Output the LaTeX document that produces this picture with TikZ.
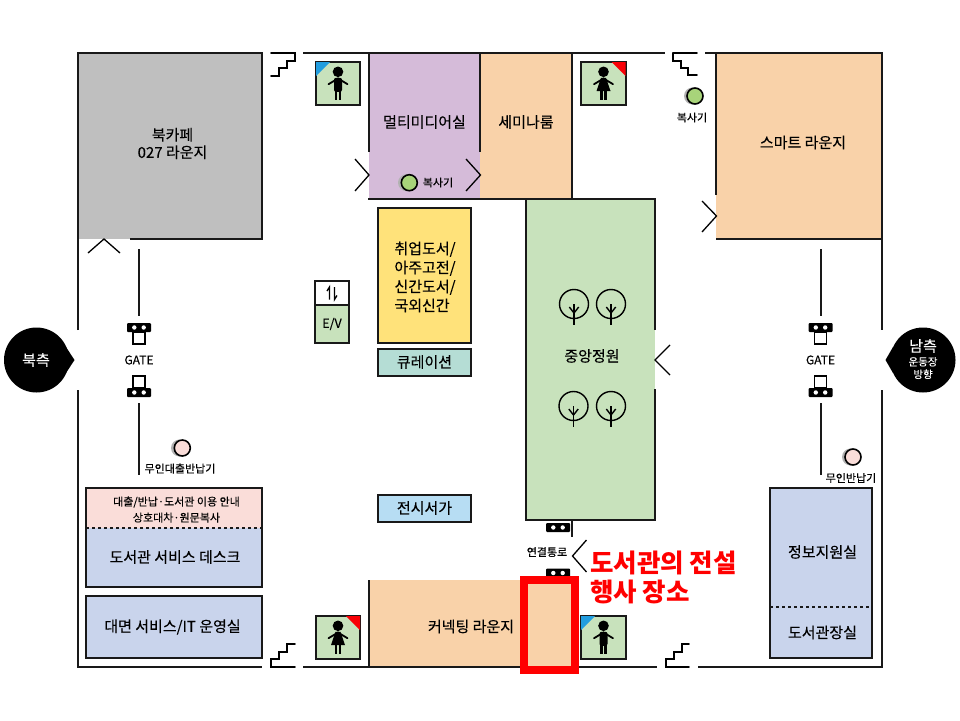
\documentclass[tikz,border=0pt]{standalone}
\usepackage{fontspec}
\setmainfont{Noto Sans CJK KR}[UprightFeatures = {FakeBold = 0.2}]
\usepackage{tikz}
\usetikzlibrary{positioning}
\definecolor{cafegray}{HTML}{BFBFBF}
\definecolor{mediapurple}{HTML}{D5BBD9}
\definecolor{loungeorange}{HTML}{F9D2A9}
\definecolor{gardengreen}{HTML}{C8E2BC}
\definecolor{shelfyellow}{HTML}{FFE27A}
\definecolor{curateteal}{HTML}{B5DDD5}
\definecolor{displayblue}{HTML}{B7DDF3}
\definecolor{deskpink}{HTML}{FADDD9}
\definecolor{deskblue}{HTML}{C9D4EC}
\definecolor{copygreen}{HTML}{A8D47A}
\tikzstyle{wall} = [line width = 2pt, draw = black!90]
\tikzstyle{box} = [line width = 2pt, draw = black!90]
\tikzstyle{door} = [line width = 1.3pt, draw = black]
\tikzstyle{stair} = [line width = 1.6pt, draw = black, line cap = round]
\tikzstyle{textarea} = [inner sep = 0, text centered, font = \fontsize{15}{19}\selectfont]
\tikzstyle{smalltext} = [inner sep = 0, text centered, font = \fontsize{11}{16}\selectfont]
\tikzset{
  figure/.style = {line width = 1.8pt, line cap = round},
  man/.pic = {
    \fill (0, -11.7) circle (5.3);
    \draw [figure] (-9.5, 0.7) -- (0, -5) -- (9.5, 0.7);
    \fill [rounded corners = 2] (-4, -5.7) rectangle (4, 8.3);
    \fill (-3.3, 6) rectangle (-0.7, 16);
    \fill (0.7, 6) rectangle (3.3, 16);
  },
  woman/.pic = {
    \fill (0, -11.7) circle (5.3);
    \draw [figure] (-9.5, 0.7) -- (0, -5) -- (9.5, 0.7);
    \fill (-2.5, -5.7) -- (2.5, -5.7) -- (7, 7.5) -- (-7, 7.5) -- cycle;
    \fill (-3.3, 6) rectangle (-0.7, 16);
    \fill (0.7, 6) rectangle (3.3, 16);
  },
  tree/.pic = {
    \draw [line width = 1.4pt] (0, 0) circle (14.5);
    \draw [line width = 1.4pt] (0, 0) -- (0, 21);
    \draw [line width = 1.4pt] (-4.7, 3) -- (0, 9) -- (4.7, 3);
  },
  gateblock/.pic = {
    \fill [rounded corners = 1] (-12, -4.5) rectangle (12, 4.5);
    \fill [white] (-4.7, 0) circle (2.2);
    \fill [white] (4.7, 0) circle (2.2);
  },
  gatedown/.pic = {
    \draw [line width = 1.4pt] (-6, 0) rectangle (6, 12);
    \pic at (0, -4.5) {gateblock};
  },
  gateup/.pic = {
    \draw [line width = 1.4pt] (-6, 0) rectangle (6, -12);
    \pic at (0, 4.5) {gateblock};
  }
}
\begin{document}
\begin{tikzpicture}[x = 1pt, y = -1pt]
    \useasboundingbox (0, 0) rectangle (960, 720);
    % room fills
    \fill [cafegray] (78, 53) rectangle (262, 239);
    \fill [mediapurple] (369, 53) rectangle (480, 199);
    \fill [loungeorange] (480, 53) rectangle (572, 199);
    \fill [loungeorange] (716, 53) rectangle (882, 239);
    \fill [gardengreen] (526, 199) rectangle (655, 520);
    \fill [loungeorange] (369, 580) rectangle (572, 667);
    % outer walls
    \draw [wall] (78, 330) -- (78, 53) -- (262, 53) -- (262, 239) -- (130, 239);
    \draw [wall] (78, 390) -- (78, 667) -- (262, 667);
    \draw [wall] (303, 53) -- (665, 53);
    \draw [wall] (303, 667) -- (657, 667);
    \draw [wall] (705, 53) -- (882, 53) -- (882, 330);
    \draw [wall] (698, 667) -- (882, 667) -- (882, 390);
    % inner walls
    \draw [wall] (369, 53) -- (369, 152);
    \draw [wall] (480, 53) -- (480, 152);
    \draw [wall] (572, 53) -- (572, 199);
    \draw [wall] (368, 199) -- (655, 199) -- (655, 330);
    \draw [wall] (655, 389) -- (655, 520) -- (526, 520) -- (526, 199);
    \draw [wall] (716, 53) -- (716, 195);
    \draw [wall] (716, 239) -- (882, 239);
    \draw [wall] (369, 580) -- (369, 667);
    \draw [wall] (572, 520) -- (572, 537);
    % gate walls
    \draw [wall] (139, 249) -- (139, 316);
    \draw [wall] (139, 403) -- (139, 475);
    \draw [wall] (820.5, 249) -- (820.5, 316);
    \draw [wall] (820.5, 403) -- (820.5, 475);
    % doors
    \draw [door] (88, 253) -- (104, 239) -- (120, 253);
    \draw [door] (355, 159) -- (369, 175) -- (355, 191);
    \draw [door] (466, 159) -- (480.5, 175) -- (466, 191);
    \draw [door] (702, 201) -- (716.5, 216) -- (702, 232);
    \draw [door] (670, 345) -- (655, 360) -- (670, 375);
    \draw [door] (586.5, 540) -- (572.5, 556) -- (586.5, 572);
    % stairs
    \draw [stair] (271, 53) -- (295, 53) -- (295, 61) -- (287, 61) -- (287, 68) -- (279, 68) -- (279, 76) -- (271, 76);
    \draw [stair] (673, 53) -- (697, 53);
    \draw [stair] (673, 53) -- (673, 61) -- (681, 61) -- (681, 68) -- (688, 68) -- (688, 75) -- (697, 75);
    \draw [stair] (295, 644) -- (287, 644) -- (287, 652) -- (279, 652) -- (279, 659) -- (271, 659) -- (271, 667) -- (295, 667);
    \draw [stair] (689, 644) -- (682, 644) -- (682, 652) -- (674, 652) -- (674, 659) -- (666, 659) -- (666, 667) -- (689, 667);
    % toilets
    \draw [box, fill = gardengreen] (316, 62) rectangle (360, 104.5);
    \fill [cyan!80!blue!90] (316, 62) -- (330, 62) -- (316, 76) -- cycle;
    \pic at (338, 83.5) {man};
    \draw [box, fill = gardengreen] (581, 62) rectangle (625.5, 104.5);
    \fill [red!90!purple] (625.5, 62) -- (611.5, 62) -- (625.5, 76) -- cycle;
    \pic at (603.5, 83.5) {woman};
    \draw [box, fill = gardengreen] (316, 616) rectangle (360, 658.5);
    \fill [red!90!purple] (360, 616) -- (346, 616) -- (360, 630) -- cycle;
    \pic at (338, 637.5) {woman};
    \draw [box, fill = gardengreen] (581, 616) rectangle (625.5, 658.5);
    \fill [cyan!80!blue!90] (581, 616) -- (595, 616) -- (581, 630) -- cycle;
    \pic at (603.5, 637.5) {man};
    % elevator
    \draw [box, fill = white] (315, 281) rectangle (349, 305);
    \draw [box, fill = gardengreen] (315, 305) rectangle (349, 343);
    \draw [line width = 1.3pt] (327, 291) -- (329.5, 287) -- (329.5, 299.5);
    \draw [line width = 1.3pt] (337, 295.5) -- (334.5, 299.5) -- (334.5, 287);
    \node [smalltext, font = \fontsize{12.5}{14}\selectfont] (label-ev) at (332, 324) {E/V};
    % shelves
    \draw [box, fill = shelfyellow] (378, 208) rectangle (471, 343);
    \draw [box, fill = curateteal] (378, 348.5) rectangle (471, 376);
    \draw [box, fill = displayblue] (378, 495) rectangle (471, 522);
    % desks
    \fill [deskpink] (86, 488) rectangle (262, 528);
    \fill [deskblue] (86, 528) rectangle (262, 587);
    \draw [box] (86, 488) rectangle (262, 587);
    \draw [box, dash pattern = on 3pt off 3pt] (86, 528) -- (262, 528);
    \draw [box, fill = deskblue] (86, 596) rectangle (262, 657.5);
    \draw [box, fill = deskblue] (770, 488) rectangle (872, 657.5);
    \draw [box, dash pattern = on 3pt off 3pt] (770, 607) -- (872, 607);
    % trees
    \pic at (574, 304) {tree};
    \pic at (611, 304) {tree};
    \pic at (573.5, 406) {tree};
    \pic at (611, 406) {tree};
    % gates
    \pic at (139, 332) {gatedown};
    \pic at (139, 388) {gateup};
    \pic at (820.5, 332) {gatedown};
    \pic at (820.5, 388) {gateup};
    \pic at (558, 527.5) {gateblock};
    \pic at (558, 573) {gateblock};
    % kiosks
    \fill [black!30] (179.5, 448) circle (8.5);
    \draw [line width = 1.6pt, fill = deskpink] (182.3, 448) circle (8);
    \fill [black!30] (850.5, 457) circle (8.5);
    \draw [line width = 1.6pt, fill = deskpink] (853, 457) circle (8);
    \fill [black!30] (692.5, 96) circle (8.5);
    \draw [line width = 1.6pt, fill = copygreen] (695, 96) circle (8);
    \fill [black!30] (406.5, 182.7) circle (8.5);
    \draw [line width = 1.6pt, fill = copygreen] (409.3, 182.7) circle (8);
    % direction signs
    \fill (36.5, 360) circle (32.5);
    \fill (66, 347) -- (74.5, 360) -- (66, 373) -- cycle;
    \fill (923, 360) circle (32.5);
    \fill (893, 347) -- (885.5, 360) -- (893, 373) -- cycle;
    \node [textarea, text = white] (sign-north) at (36, 360) {북측};
    \node [textarea, text = white] (sign-south) at (923, 346) {남측};
    \node [smalltext, text = white, font = \fontsize{10.5}{12.5}\selectfont, align = center] (sign-field) at (923, 368) {운동장\\방향};
    % room labels
    \node [textarea, align = center, font = \fontsize{15}{17.5}\selectfont] (label-cafe) at (172.5, 143.5) {북카페\\027 라운지};
    \node [textarea] (label-media) at (424.5, 122) {멀티미디어실};
    \node [textarea] (label-seminar) at (526, 122) {세미나룸};
    \node [textarea] (label-smart) at (803, 142.5) {스마트 라운지};
    \node [textarea, align = left] (label-shelf) at (425, 277) {취업도서/\\아주고전/\\신간도서/\\국외신간};
    \node [textarea] (label-curate) at (424.5, 362) {큐레이션};
    \node [textarea] (label-display) at (424.5, 508) {전시서가};
    \node [textarea] (label-garden) at (592, 356) {중앙정원};
    \node [textarea] (label-connect) at (471, 626.5) {커넥팅 라운지};
    \node [textarea] (label-desk) at (175, 557) {도서관 서비스 데스크};
    \node [textarea] (label-it) at (172.5, 627) {대면 서비스/IT 운영실};
    \node [textarea] (label-info) at (822.5, 552) {정보지원실};
    \node [textarea] (label-director) at (822.5, 632.5) {도서관장실};
    \node [smalltext, align = center] (label-loan) at (176.5, 509.5) {대출/반납·도서관 이용 안내\\상호대차·원문복사};
    % small labels
    \node [smalltext, font = \fontsize{12}{14}\selectfont] (label-gate-n) at (139, 360) {GATE};
    \node [smalltext, font = \fontsize{12}{14}\selectfont] (label-gate-s) at (820.5, 360) {GATE};
    \node [smalltext] (label-kiosk-n) at (180, 468.5) {무인대출반납기};
    \node [smalltext] (label-kiosk-s) at (851, 478) {무인반납기};
    \node [smalltext] (label-copy-a) at (692, 117.5) {복사기};
    \node [smalltext] (label-copy-b) at (438, 182.5) {복사기};
    \node [smalltext] (label-link) at (547, 552) {연결통로};
    % event place
    \draw [red, line width = 8pt] (524, 580) rectangle (575, 670);
    \node [inner sep = 0, anchor = west, text = red, font = \fontsize{25.5}{29}\selectfont\bfseries] (label-event-a) at (590, 563) {도서관의 전설};
    \node [inner sep = 0, anchor = west, text = red, font = \fontsize{25.5}{29}\selectfont\bfseries] (label-event-b) at (590, 592) {행사 장소};
  \end{tikzpicture}
\end{document}
